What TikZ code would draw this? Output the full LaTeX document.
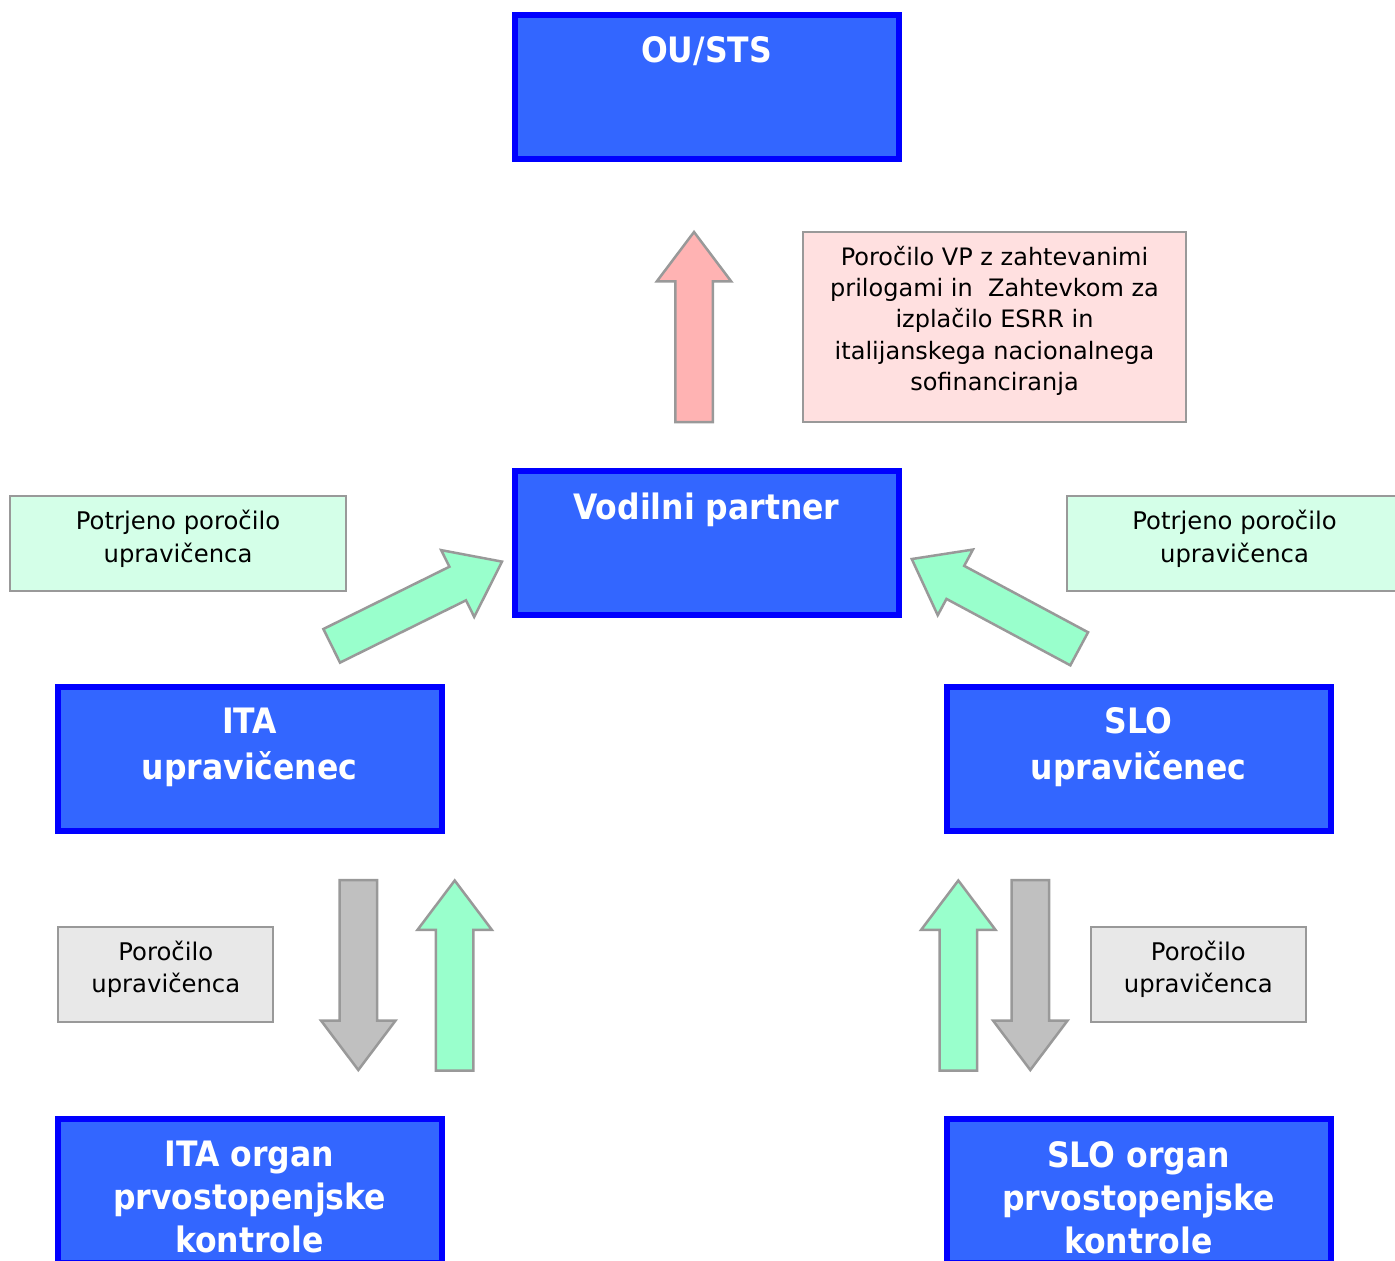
\documentclass[tikz,border=0pt]{standalone}
\usepackage{fontspec}
\setmainfont{DejaVu Sans}
\newfontfamily\boldcond{DejaVu Sans Condensed}
\usetikzlibrary{shapes.arrows}
\definecolor{boxblue}{RGB}{51,102,255}
\definecolor{boxedge}{RGB}{0,0,255}
\definecolor{edgegray}{RGB}{153,153,153}
\definecolor{pinkfill}{RGB}{255,224,224}
\definecolor{redarrow}{RGB}{255,179,179}
\definecolor{greenarrow}{RGB}{153,255,204}
\definecolor{greenfill}{RGB}{212,255,232}
\definecolor{grayarrow}{RGB}{192,192,192}
\definecolor{grayfill}{RGB}{232,232,232}
\begin{document}
\begin{tikzpicture}[x=1pt,y=-1pt,
  bluebox/.style={draw=boxedge, fill=boxblue, line width=6pt, minimum width=384pt,
    minimum height=143.5pt, inner sep=0pt, outer sep=0pt},
  bluetext/.style={text=white, font=\boldcond\fontsize{35}{46}\selectfont\bfseries,
    align=center, inner sep=0pt, anchor=north},
  infobox/.style={draw=edgegray, line width=2pt, font=\fontsize{24.3}{32.5}\selectfont,
    align=center, inner sep=0pt, outer sep=0pt},
  blockarrow/.style={single arrow, draw=edgegray, line width=2.5pt, minimum height=190pt,
    inner xsep=0pt, inner ysep=17.5pt, text height=0pt, text depth=0pt,
    single arrow head extend=18.5pt, single arrow tip angle=74,
    single arrow head indent=0pt, outer sep=0pt, anchor=tail}
]
\useasboundingbox (0,0) rectangle (1395,1261);

% blue boxes
\node[bluebox, label={[bluetext, yshift=-21.5pt]north:OU/STS}] (ou) at (706.5,87) {};
\node[bluebox, label={[bluetext, yshift=-21pt]north:Vodilni partner}] (vp) at (706.5,543) {};
\node[bluebox, label={[bluetext, yshift=-20pt]north:ITA\\upravičenec}] (itau) at (249.5,759.2) {};
\node[bluebox, label={[bluetext, yshift=-20pt]north:SLO\\upravičenec}] (slou) at (1138.5,759.2) {};
\node[bluebox, label={[bluetext, font=\boldcond\fontsize{35}{43}\selectfont\bfseries, yshift=-22pt]north:ITA organ\\prvostopenjske\\kontrole}] (itak) at (249.5,1190.75) {};
\node[bluebox, label={[bluetext, font=\boldcond\fontsize{35}{43}\selectfont\bfseries, yshift=-22pt]north:SLO organ\\prvostopenjske\\kontrole}] (slok) at (1138.5,1190.75) {};

% info boxes
\node[infobox, fill=pinkfill, minimum width=383pt, minimum height=190pt,
  font=\fontsize{24}{31.2}\selectfont, text depth=17.5pt] (pink) at (994.5,327)
  {Poročilo VP z zahtevanimi\\prilogami in~ Zahtevkom za\\izplačilo ESRR in\\italijanskega nacionalnega\\sofinanciranja};
\node[infobox, fill=greenfill, minimum width=336pt, minimum height=95pt, text depth=13.5pt] (gl) at (178,543)
  {Potrjeno poročilo\\upravičenca};
\node[infobox, fill=greenfill, minimum width=336pt, minimum height=95pt, text depth=13.5pt] (gr) at (1234.5,543)
  {Potrjeno poročilo\\upravičenca};
\node[infobox, fill=grayfill, minimum width=215pt, minimum height=95pt, text depth=15.5pt] (pl) at (165.8,974.7)
  {Poročilo\\upravičenca};
\node[infobox, fill=grayfill, minimum width=215pt, minimum height=95pt, text depth=15.5pt] (pr) at (1198.3,974.7)
  {Poročilo\\upravičenca};

% block arrows
\node[blockarrow, fill=redarrow, rotate=90] (a1) at (694,422) {};
\node[blockarrow, fill=greenarrow, rotate=26.3] (a2) at (331.7,645.8) {};
\node[blockarrow, fill=greenarrow, rotate=151.8] (a3) at (1079.2,648.8) {};
\node[blockarrow, fill=grayarrow, rotate=-90] (a4) at (358.3,880) {};
\node[blockarrow, fill=greenarrow, rotate=90] (a5) at (454.7,1070.5) {};
\node[blockarrow, fill=greenarrow, rotate=90] (a6) at (958.3,1070.5) {};
\node[blockarrow, fill=grayarrow, rotate=-90] (a7) at (1030.3,880) {};
\end{tikzpicture}
\end{document}
